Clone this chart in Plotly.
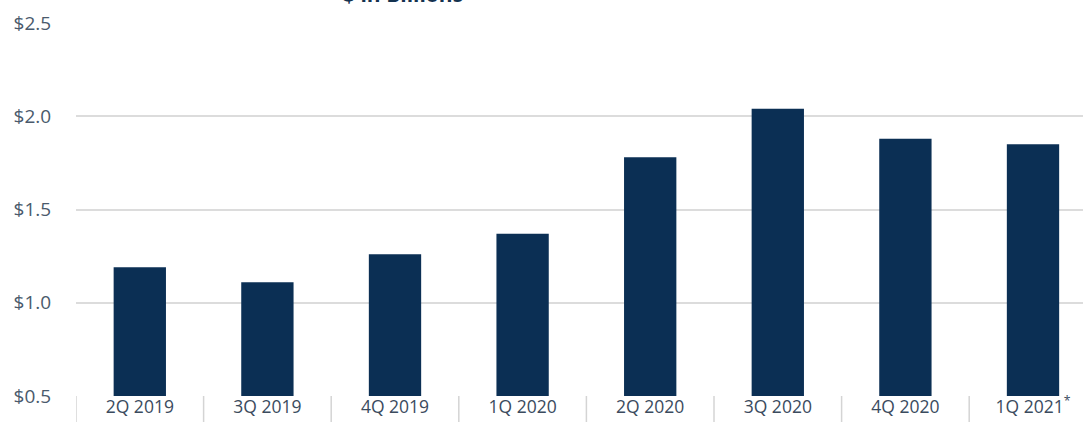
import plotly.graph_objects as go

categories = ["2Q 2019", "3Q 2019", "4Q 2019", "1Q 2020", "2Q 2020", "3Q 2020", "4Q 2020", "1Q 2021<sup>*</sup>"]
values = [1.19, 1.11, 1.26, 1.37, 1.78, 2.04, 1.88, 1.85]
y_ticks = [0.5, 1.0, 1.5, 2.0, 2.5]
title_text = "$ in Billions"

W, H = 1083, 422
ml, mt, mb = 76, 23, 26
plot_h = H - mt - mb
cat_px = 127.6
n = len(categories)
x_max = -0.5 + (W - ml) / cat_px

fig = go.Figure()
fig.add_trace(go.Bar(
    x=list(range(n)), y=values, width=0.41,
    marker=dict(color="#0b2f54", line=dict(width=0)),
    base=0,
))

shapes = []
for i in range(n + 1):
    shapes.append(dict(type="line", xref="x", yref="paper",
                       x0=i - 0.5, x1=i - 0.5, y0=0, y1=-mb / plot_h,
                       line=dict(color="#d4d4d4", width=1.5)))

fig.update_layout(
    width=W, height=H,
    margin=dict(l=ml, r=0, t=mt, b=mb, autoexpand=False),
    paper_bgcolor="white", plot_bgcolor="white",
    showlegend=False,
    font=dict(family="Open Sans", color="#3b4b5e"),
    shapes=shapes,
    annotations=[dict(text="<b>" + title_text + "</b>", xref="paper", yref="paper",
                      x=(403 - ml) / (W - ml), y=(H - mb - 10) / plot_h,
                      xanchor="center", yanchor="bottom", showarrow=False,
                      font=dict(size=21, color="#14324f", family="Open Sans"))],
    xaxis=dict(range=[-0.5, x_max], tickmode="array", tickvals=list(range(n)),
               ticktext=categories, showgrid=False, zeroline=False, showline=False,
               automargin=False, ticks="", ticklabelstandoff=-2,
               tickfont=dict(size=17.5, color="#3b4b5e")),
    yaxis=dict(range=[0.5, 2.5], tickmode="array", tickvals=y_ticks,
               ticktext=["$%.1f" % v for v in y_ticks],
               showgrid=True, gridcolor="#dcdcdc", gridwidth=2,
               zeroline=False, showline=False, automargin=False,
               ticks="outside", ticklen=20, tickcolor="rgba(0,0,0,0)",
               tickfont=dict(size=19, color="#4a5a6c")),
)
fig.write_html("out.html")
